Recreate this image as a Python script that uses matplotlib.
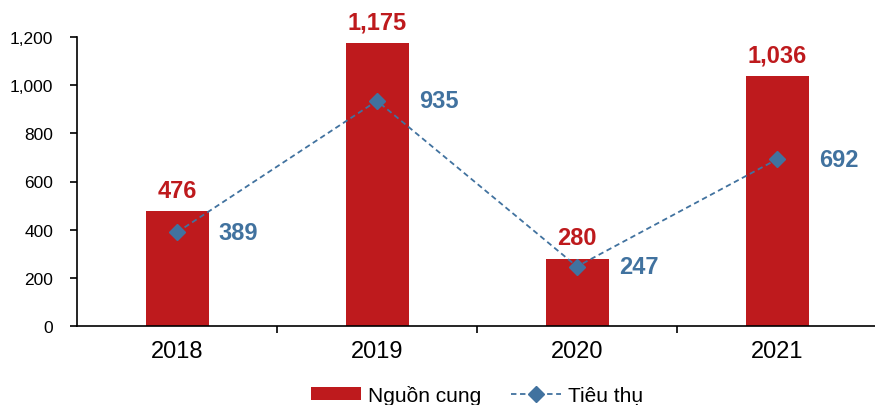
import numpy as np
import matplotlib
matplotlib.use("Agg")
import matplotlib.pyplot as plt
from matplotlib.ticker import FuncFormatter

# ── data ────────────────────────────────────────────────────────────────
years = ["2018", "2019", "2020", "2021"]
supply = [476, 1175, 280, 1036]        # Nguồn cung
consumption = [389, 935, 247, 692]     # Tiêu thụ

RED = "#BE1A1D"
BLUE = "#41729F"

plt.rcParams.update({
    "font.family": ["Liberation Sans", "DejaVu Sans"],
    "axes.linewidth": 1.2,
})

fig = plt.figure(figsize=(8.75, 4.06), dpi=100)
ax = fig.add_axes([77 / 875, 79 / 406, 800 / 875, 289 / 406])

x = np.arange(len(years))
bars = ax.bar(x, supply, width=0.315, color=RED, label="Nguồn cung", zorder=2)
line, = ax.plot(x, consumption, linestyle=(0, (3, 2)), color=BLUE, linewidth=1.3,
                marker="D", markersize=8, markeredgecolor=BLUE, label="Tiêu thụ", zorder=3)

# value labels
for xi, v in zip(x, supply):
    ax.annotate(f"{v:,}", (xi, v), xytext=(0, 7), textcoords="offset points",
                ha="center", va="bottom", fontsize=17, fontweight="bold", color=RED)
for xi, v in zip(x, consumption):
    ax.annotate(f"{v:,}", (xi, v), xytext=(30, 0), textcoords="offset points",
                ha="left", va="center", fontsize=17, fontweight="bold", color=BLUE)

ax.set_xlim(-0.5, 3.5)
ax.set_ylim(0, 1200)
ax.set_yticks(np.arange(0, 1201, 200))
ax.yaxis.set_major_formatter(FuncFormatter(lambda v, _: f"{int(v):,}"))
ax.tick_params(axis="y", direction="out", length=5, width=1.2, pad=12, labelsize=12.5)

ax.set_xticks(x)
ax.set_xticklabels(years)
ax.set_xticks(np.arange(-0.5, 4, 1.0)[1:-1], minor=True)
ax.tick_params(axis="x", which="major", length=0, pad=10, labelsize=17)
ax.tick_params(axis="x", which="minor", direction="out", length=5, width=1.2)

for s in ("top", "right"):
    ax.spines[s].set_visible(False)

fig.legend([bars, line], ["Nguồn cung", "Tiêu thụ"], loc="center",
           bbox_to_anchor=(477 / 875, 10 / 406), ncol=2, frameon=False,
           fontsize=15, handlelength=2.4, handleheight=0.55, handletextpad=0.35,
           columnspacing=1.4)

fig.savefig("out.png", dpi=100)
